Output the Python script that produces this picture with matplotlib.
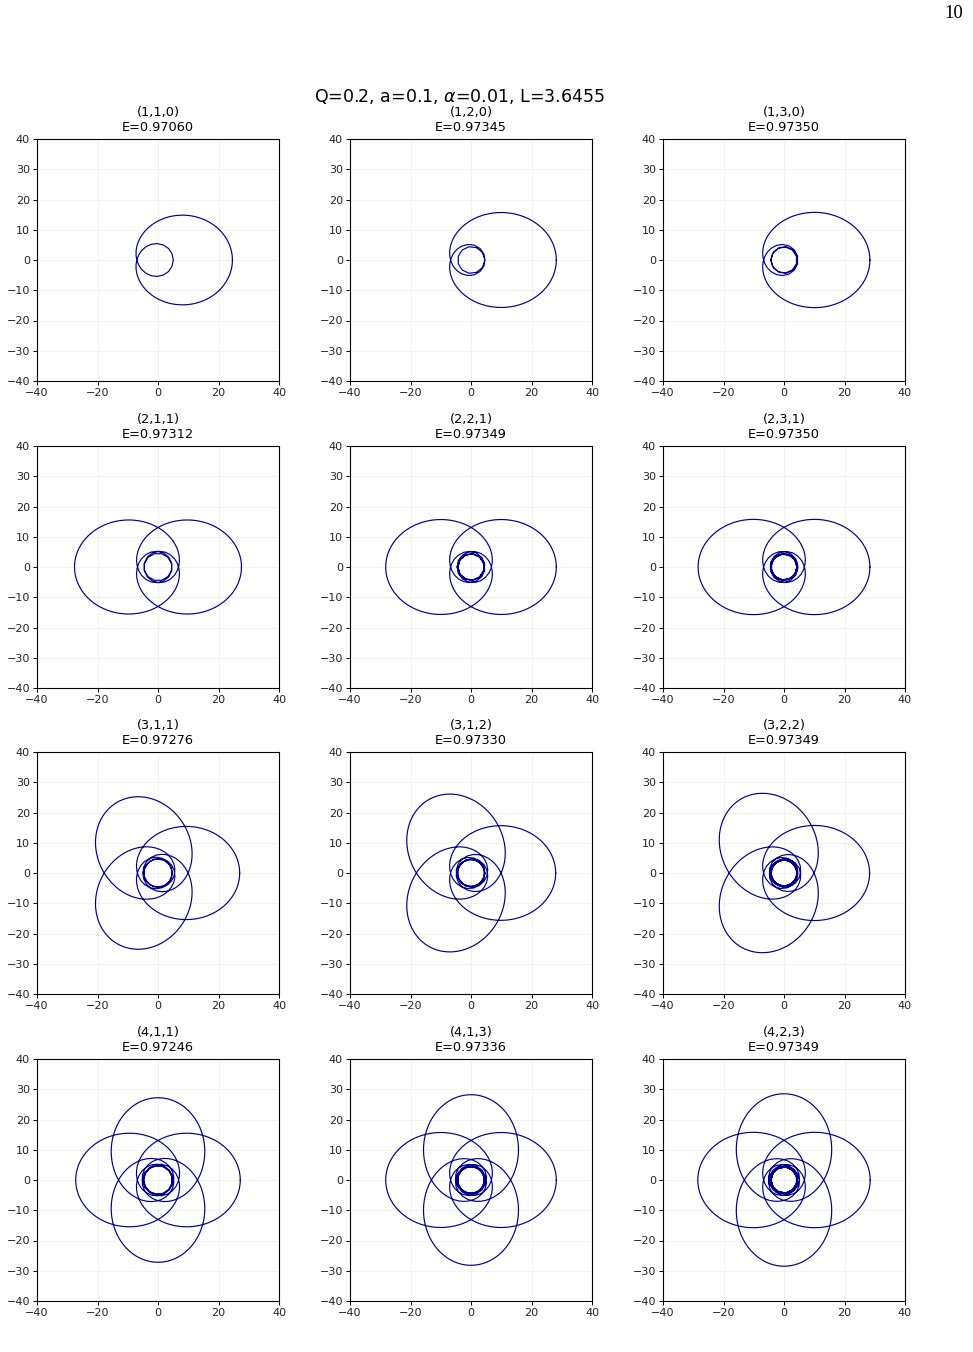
import numpy as np
import matplotlib.pyplot as plt

# periodic orbits (z, w, v) = (zoom, whirl, vertex)
suptitle = r"Q=0.2, a=0.1, $\alpha$=0.01, L=3.6455"
zoom = [1, 1, 1, 2, 2, 2, 3, 3, 3, 4, 4, 4]
whirl = [1, 2, 3, 1, 2, 3, 1, 1, 2, 1, 1, 2]
vertex = [0, 0, 0, 1, 1, 1, 1, 2, 2, 1, 3, 3]
energy = [0.97060, 0.97345, 0.97350, 0.97312, 0.97349, 0.97350,
          0.97276, 0.97330, 0.97349, 0.97246, 0.97336, 0.97349]
# apoapsis radius
r_apo = [24.6, 28.2, 28.4, 27.6, 28.2, 28.4, 27.0, 28.0, 28.3, 27.2, 28.2, 28.5]

xticks = [-40, -20, 0, 20, 40]
yticks = [-40, -30, -20, -10, 0, 10, 20, 30, 40]

# log grid in distance from periapsis (chi = pi - s)
s = np.concatenate([[0.0], np.geomspace(1e-11, np.pi, 6000)])
chi = np.pi - s[::-1]


def half_phi(u1, u2):
    u3 = 0.5 - u1 - u2
    u = u1 + (u2 - u1) * (1 - np.cos(chi)) / 2
    f = 1.0 / np.sqrt(2 * (u3 - u))
    phi = np.concatenate([[0.0], np.cumsum(0.5 * (f[1:] + f[:-1]) * np.diff(chi))])
    return u, phi


def orbit(z, w, v, ra):
    q = w + v / z
    target = 2 * np.pi * (1 + q)
    u1 = 1.0 / ra
    lo, hi = u1 + 1e-6, (0.5 - u1) / 2 - 1e-12
    for _ in range(80):
        mid = 0.5 * (lo + hi)
        if 2 * half_phi(u1, mid)[1][-1] < target:
            lo = mid
        else:
            hi = mid
    u, phi = half_phi(u1, 0.5 * (lo + hi))
    dphi = 2 * phi[-1]
    # one radial period, apoapsis -> periapsis -> apoapsis
    r1 = np.concatenate([1 / u, 1 / u[::-1][1:]])
    p1 = np.concatenate([phi, dphi - phi[::-1][1:]])
    r_all, p_all = [], []
    for k in range(z):
        r_all.append(r1 if k == 0 else r1[1:])
        p_all.append(p1 + k * dphi if k == 0 else (p1 + k * dphi)[1:])
    r = np.concatenate(r_all)
    p = np.concatenate(p_all)
    # sample at uniform proper time (dtau ~ r^2 dphi)
    g = r ** 2
    tau = np.concatenate([[0.0], np.cumsum(0.5 * (g[1:] + g[:-1]) * np.diff(p))])
    n = int(np.ceil(tau[-1] / 11.0)) + 1
    t = np.linspace(0, tau[-1], n)
    rr = np.interp(t, tau, r)
    pp = np.interp(t, tau, p)
    return rr * np.cos(pp), rr * np.sin(pp)


fig = plt.figure(figsize=(9.73, 13.52), dpi=100)
W, H = 973.0, 1352.0
lefts = [37, 350, 663]
tops = [139, 446, 752, 1059]
size = 242

for i in range(12):
    row, col = divmod(i, 3)
    ax = fig.add_axes([lefts[col] / W, 1 - (tops[row] + size) / H, size / W, size / H])
    x, y = orbit(zoom[i], whirl[i], vertex[i], r_apo[i])
    ax.plot(x, y, color="#00008B", lw=0.85)
    ax.set_xlim(-40, 40)
    ax.set_ylim(-40, 40)
    ax.set_xticks(xticks)
    ax.set_yticks(yticks)
    ax.tick_params(labelsize=8, length=3, width=0.7, pad=2, labelcolor="#222222")
    ax.grid(True, color="#dddddd", lw=0.6, alpha=0.45)
    for sp in ax.spines.values():
        sp.set_linewidth(0.8)
    ax.set_title("(%d,%d,%d)\nE=%.5f" % (zoom[i], whirl[i], vertex[i], energy[i]),
                 fontsize=9.3, pad=6, linespacing=1.2)

fig.text(459.5 / W, 1 - 97 / H, suptitle, ha="center", va="center", fontsize=12.5)
fig.text(954 / W, 1 - 14 / H, "10", ha="center", va="center", fontsize=13.5,
         family=["Liberation Serif", "DejaVu Serif"])

fig.savefig("out.png", dpi=100)
